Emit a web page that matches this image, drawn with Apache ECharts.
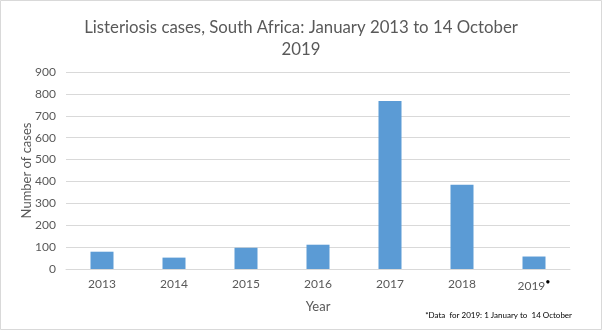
<!DOCTYPE html>
<html>
<head>
<meta charset="utf-8">
<script src="https://cdn.jsdelivr.net/npm/echarts@6/dist/echarts.min.js"></script>
<style>
html,body{margin:0;padding:0;background:#fff;}
#chart{width:602px;height:330px;}
</style>
</head>
<body>
<div id="chart"></div>
<script>
var years = ['2013', '2014', '2015', '2016', '2017', '2018', '2019'];
var cases = [79, 52, 97, 111, 768, 385, 57];
var yTicks = [0, 100, 200, 300, 400, 500, 600, 700, 800, 900];

var FONT = 'Lato, "Open Sans", sans-serif';
var chart = echarts.init(document.getElementById('chart'));
chart.setOption({
  animation: false,
  backgroundColor: '#ffffff',
  title: {
    text: 'Listeriosis cases, South Africa: January 2013 to 14 October\n2019',
    left: 'center',
    top: 12,
    textStyle: { fontFamily: FONT, fontSize: 16.8, fontWeight: 'normal', color: '#595959', lineHeight: 22 }
  },
  grid: { left: 66, right: 32, top: 72, bottom: 61 },
  xAxis: {
    type: 'category',
    data: years,
    name: 'Year',
    nameLocation: 'middle',
    nameGap: 31,
    nameTextStyle: { fontFamily: FONT, fontSize: 13, color: '#595959' },
    axisLine: { lineStyle: { color: '#d9d9d9' } },
    axisTick: { show: false },
    axisLabel: {
      fontFamily: FONT, fontSize: 12, color: '#595959', margin: 9,
      formatter: function (v) { return v === '2019' ? v + '{s|•}' : v; },
      rich: { s: { fontSize: 9, color: '#000', verticalAlign: 'top', padding: [0, 0, 8, 0] } }
    }
  },
  yAxis: {
    type: 'value',
    min: yTicks[0],
    max: yTicks[yTicks.length - 1],
    interval: 100,
    name: 'Number of cases',
    nameLocation: 'middle',
    nameGap: 33,
    nameMoveOverlap: false,
    nameTextStyle: { fontFamily: FONT, fontSize: 13, color: '#595959' },
    axisLine: { show: false },
    axisTick: { show: false },
    axisLabel: { fontFamily: FONT, fontSize: 12, color: '#595959', margin: 10 },
    splitLine: { lineStyle: { color: '#d9d9d9', width: 1 } }
  },
  series: [{
    type: 'bar',
    data: cases,
    barWidth: 23,
    itemStyle: { color: '#5b9bd5' }
  }],
  graphic: [
    {
      type: 'rect',
      shape: { x: 0.5, y: 0.5, width: 601, height: 329 },
      style: { fill: 'none', stroke: '#d9d9d9', lineWidth: 1 },
      silent: true
    },
    {
      type: 'text',
      right: 30,
      top: 311,
      style: { text: '*Data  for 2019: 1 January to  14 October', font: '8px ' + FONT, fill: '#000000' }
    }
  ]
});
</script>
</body>
</html>
